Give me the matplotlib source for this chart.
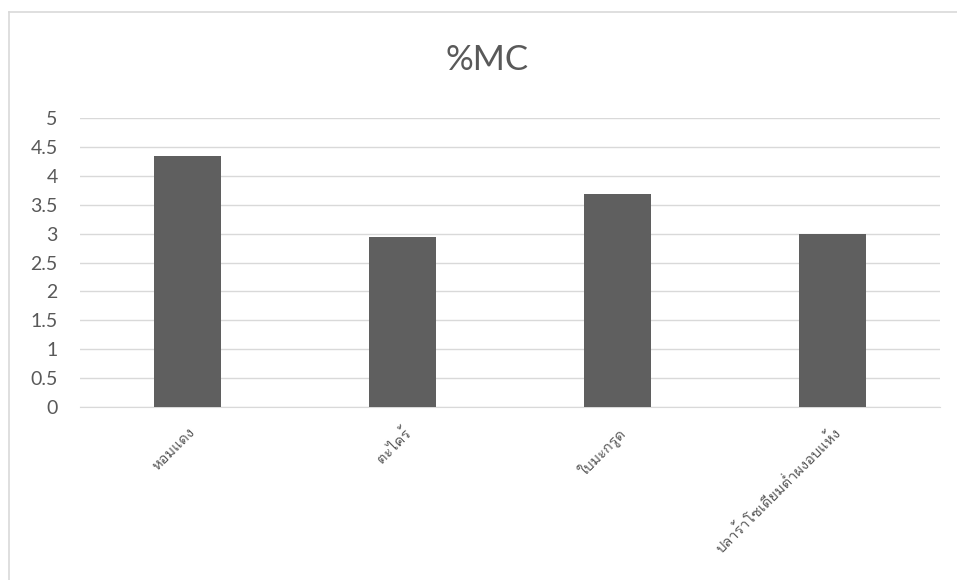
import matplotlib
matplotlib.use("Agg")
import matplotlib.pyplot as plt
from matplotlib import font_manager, ft2font
from matplotlib.lines import Line2D
import numpy as np

# ── Data ──────────────────────────────────────────────────────────────────────
CATEGORIES = ["หอมแดง", "ตะไคร้", "ใบมะกรูด", "ปลาร้าโซเดียมต่ำผงอบแห้ง"]
MC_VALUES  = [4.35, 2.94, 3.68, 2.99]
Y_TICKS    = [0, 0.5, 1, 1.5, 2, 2.5, 3, 3.5, 4, 4.5, 5]
TITLE      = "%MC"

TEXT_COLOR = "#595959"
BAR_COLOR  = "#5f5f5f"
GRID_COLOR = "#d9d9d9"


def find_thai_fonts():
    # installed fonts that have Thai glyphs
    found = []
    for f in font_manager.fontManager.ttflist:
        try:
            cmap = ft2font.FT2Font(f.fname).get_charmap()
        except Exception:
            continue
        if 0x0E01 in cmap:
            found.append(f.name)
    return found


thai_fonts = find_thai_fonts()
families = (thai_fonts[:1] if thai_fonts else []) + ["DejaVu Sans"]

fig = plt.figure(figsize=(9.57, 5.8), dpi=100)
ax = fig.add_axes([80 / 957, 1 - 407 / 580, 860 / 957, 289 / 580])

x = np.arange(len(CATEGORIES))
ax.bar(x, MC_VALUES, width=0.31, color=BAR_COLOR, zorder=3)

ax.set_xlim(-0.5, len(CATEGORIES) - 0.5)
ax.set_ylim(0, 5)
ax.set_yticks(Y_TICKS)
ax.set_yticklabels([f"{v:g}" for v in Y_TICKS], fontsize=14, color=TEXT_COLOR,
                   family=["Lato", "DejaVu Sans"])
ax.yaxis.grid(True, color=GRID_COLOR, linewidth=1, zorder=0)
ax.tick_params(axis="y", length=0, pad=16)
ax.tick_params(axis="x", length=0, pad=13)

ax.set_xticks(x)
ax.set_xticklabels(CATEGORIES, rotation=45, ha="right", rotation_mode="anchor",
                   fontsize=10.5, color=TEXT_COLOR, family=families)

for s in ["top", "right", "left"]:
    ax.spines[s].set_visible(False)
ax.spines["bottom"].set_color(GRID_COLOR)

fig.text(487 / 957, 1 - 60 / 580, TITLE, ha="center", va="center",
         fontsize=25, color=TEXT_COLOR, family=["Lato", "DejaVu Sans"])

# chart-area border (only top and left edges are visible in the crop)
fig.add_artist(Line2D([9 / 957, 1], [1 - 12 / 580, 1 - 12 / 580],
                      transform=fig.transFigure, color=GRID_COLOR, linewidth=1.2))
fig.add_artist(Line2D([9 / 957, 9 / 957], [0, 1 - 12 / 580],
                      transform=fig.transFigure, color=GRID_COLOR, linewidth=1.2))

fig.savefig("out.png", dpi=100)
